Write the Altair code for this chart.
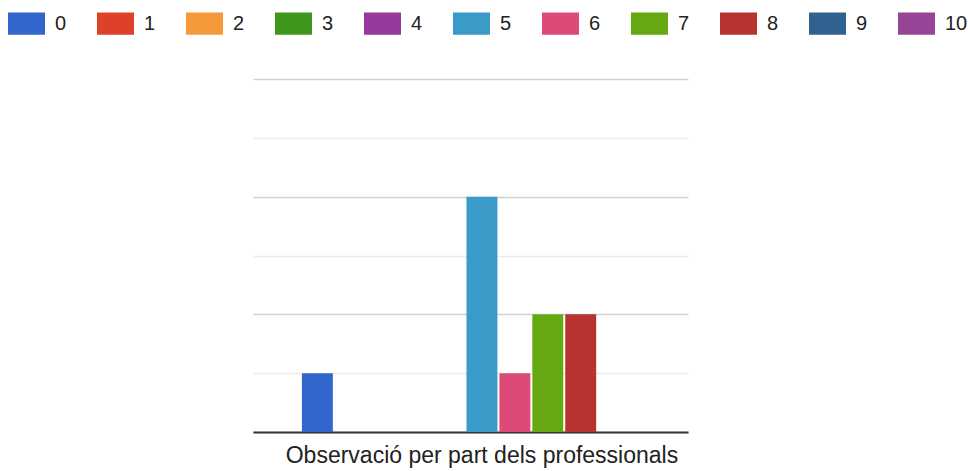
import altair as alt
import pandas as pd

# ---- data ----
category = ["Observació per part dels professionals"]
series = ["0", "1", "2", "3", "4", "5", "6", "7", "8", "9", "10"]
values = [1, 0, 0, 0, 0, 4, 1, 2, 2, 0, 0]
colors = ["#3366cc", "#dd4127", "#f5993a", "#3e961c", "#96399a", "#3a9ac8",
          "#dd4a77", "#66a812", "#b7332f", "#31628f", "#974497"]
grid_values = [0, 1, 2, 3, 4, 5, 6]

df = pd.DataFrame({
    "categoria": category * len(series),
    "serie": series,
    "valor": values,
})

FONT = "Liberation Sans"

bars = alt.Chart(df).mark_bar().encode(
    x=alt.X(
        "categoria:N",
        title=None,
        scale=alt.Scale(paddingInner=0, paddingOuter=0.104, align=0.653),
        axis=alt.Axis(
            labelAngle=0, ticks=False, tickSize=0, labelPadding=12,
            domainColor="#333333", domainWidth=2, labelFontSize=23,
            labelFont=FONT, labelColor="#222222", labelBaseline="top",
            labelLimit=0, grid=False,
        ),
    ),
    xOffset=alt.XOffset(
        "serie:N",
        scale=alt.Scale(domain=series, paddingInner=0.06, paddingOuter=0),
    ),
    y=alt.Y(
        "valor:Q",
        title=None,
        scale=alt.Scale(domain=[0, 6], nice=False),
        axis=alt.Axis(
            values=grid_values, labels=False, ticks=False, domain=False,
            gridColor={"condition": {"test": "datum.value % 2 === 0", "value": "#d2d2d2"},
                       "value": "#ebebeb"},
            gridWidth=1.5,
        ),
    ),
    color=alt.Color(
        "serie:N",
        scale=alt.Scale(domain=series, range=colors),
        legend=alt.Legend(
            title=None, orient="none", direction="horizontal", columns=11,
            legendX=-245, legendY=-74,
            symbolType="M-1,-0.6H1V0.6H-1Z", symbolSize=1369,
            symbolStrokeWidth=0, symbolOpacity=1,
            labelFontSize=20, labelFont=FONT, labelColor="#222222",
            labelOffset=10, columnPadding=30,
        ),
    ),
)

chart = bars.properties(
    width=435,
    height=353,
    padding={"left": 253, "top": 79, "right": 280, "bottom": 39},
    autosize=alt.AutoSizeParams(type="none"),
    background="white",
).configure_view(stroke=None)

chart.save("out.html", embed_options={"renderer": "svg", "actions": False})
